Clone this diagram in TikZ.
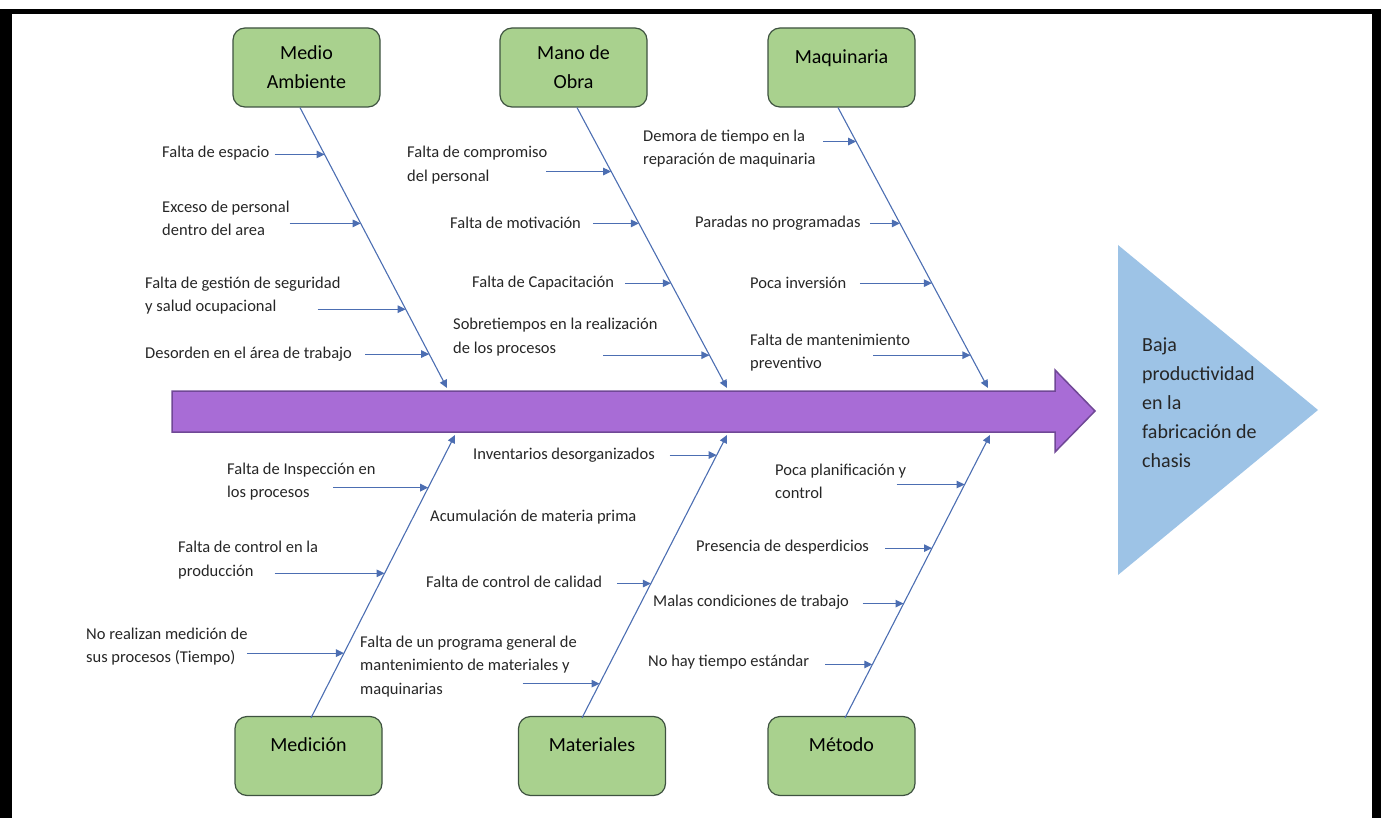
\documentclass[tikz,border=0pt]{standalone}
\usepackage{fontspec}
\setmainfont{Carlito}
\usetikzlibrary{arrows.meta,calc}
\definecolor{boxfill}{RGB}{169,209,142}
\definecolor{boxline}{RGB}{62,82,64}
\definecolor{bonecol}{RGB}{76,110,178}
\definecolor{spinefill}{RGB}{168,108,214}
\definecolor{spineline}{RGB}{112,72,150}
\definecolor{headfill}{RGB}{157,195,230}

\begin{document}
\begin{tikzpicture}[x=1pt,y=-1pt,
  cat/.style={draw=boxline,fill=boxfill,rounded corners=12pt,line width=1.2pt,minimum width=147pt,minimum height=79pt,align=center,inner sep=0pt,font=\fontsize{20}{29}\selectfont},
  onerow/.style={text height=14pt,text depth=22.6pt},
  why/.style={anchor=west,align=left,inner sep=0pt,text=black!85,font=\fontsize{16.5}{23.5}\selectfont},
  bone/.style={draw=bonecol,line width=1.1pt,-{Triangle[length=8pt,width=7.5pt]}},
  cause/.style={bone}]
\useasboundingbox (0,0) rectangle (1381,818);
\fill (0,9) rectangle (1381,14);
\fill (0,9) rectangle (12,818);
\fill (1372,9) rectangle (1381,818);

\draw[fill=spinefill,draw=spineline,line width=1.5pt] (172,391) -- (1055,391) -- (1055,370) -- (1095,411) -- (1055,452) -- (1055,432) -- (172,432) -- cycle;
\fill[headfill] (1118,245) -- (1318,410) -- (1118,575) -- cycle;
\node[anchor=west,align=left,inner sep=0pt,text=black!85,font=\fontsize{20}{29}\selectfont] (effect) at (1142,402.5) {Baja\\productividad\\en la\\fabricación de\\chasis};

\node[cat] (ma) at (306.5,67.5) {Medio\\Ambiente};
\node[cat] (mo) at (573.5,67.5) {Mano de\\Obra};
\node[cat,onerow] (mq) at (841.5,67.5) {Maquinaria};
\node[cat,onerow] (me) at (308.5,756) {Medición};
\node[cat,onerow] (mt) at (592,756) {Materiales};
\node[cat,onerow] (mm) at (841.5,756) {Método};

\coordinate (ma-root) at ([xshift=-6.5pt]ma.south);
\coordinate (mo-root) at ([xshift=3.5pt]mo.south);
\coordinate (mq-root) at ([xshift=-3.5pt]mq.south);
\coordinate (me-root) at ([xshift=2.5pt,yshift=-2pt]me.north);
\coordinate (mt-root) at ([xshift=-10pt,yshift=-2pt]mt.north);
\coordinate (mm-root) at ([xshift=3.5pt,yshift=-2pt]mm.north);
\coordinate (ma-tip) at (447,388);
\coordinate (mo-tip) at (727,388);
\coordinate (mq-tip) at (988,388);
\coordinate (me-tip) at (455,435);
\coordinate (mt-tip) at (727,435);
\coordinate (mm-tip) at (990,435);

\draw[bone] (ma-root) -- (ma-tip);
\draw[bone] (mo-root) -- (mo-tip);
\draw[bone] (mq-root) -- (mq-tip);
\draw[bone] (me-root) -- (me-tip);
\draw[bone] (mt-root) -- (mt-tip);
\draw[bone] (mm-root) -- (mm-tip);

\coordinate (ma1) at ($(ma-root)!0.167!(ma-tip)$);
\coordinate (ma2) at ($(ma-root)!0.413!(ma-tip)$);
\coordinate (ma3) at ($(ma-root)!0.719!(ma-tip)$);
\coordinate (ma4) at ($(ma-root)!0.879!(ma-tip)$);
\node[why] (ma-t1) at (162,153) {Falta de espacio};
\node[why] (ma-t2) at (162,218.5) {Exceso de personal\\dentro del area};
\node[why] (ma-t3) at (145,295.5) {Falta de gestión de seguridad\\y salud ocupacional};
\node[why] (ma-t4) at (145,354) {Desorden en el área de trabajo};
\draw[cause] ($(ma1)+(-50,0)$) -- (ma1);
\draw[cause] ($(ma2)+(-71,0)$) -- (ma2);
\draw[cause] ($(ma3)+(-88,0)$) -- (ma3);
\draw[cause] ($(ma4)+(-64,0)$) -- (ma4);

\coordinate (mo1) at ($(mo-root)!0.228!(mo-tip)$);
\coordinate (mo2) at ($(mo-root)!0.413!(mo-tip)$);
\coordinate (mo3) at ($(mo-root)!0.626!(mo-tip)$);
\coordinate (mo4) at ($(mo-root)!0.883!(mo-tip)$);
\node[why] (mo-t1) at (407,165) {Falta de compromiso\\del personal};
\node[why] (mo-t2) at (450,223) {Falta de motivación};
\node[why] (mo-t3) at (472,283) {Falta de Capacitación};
\node[why] (mo-t4) at (453,337) {Sobretiempos en la realización\\de los procesos};
\draw[cause] ($(mo1)+(-65,0)$) -- (mo1);
\draw[cause] ($(mo2)+(-46,0)$) -- (mo2);
\draw[cause] ($(mo3)+(-46,0)$) -- (mo3);
\draw[cause] ($(mo4)+(-106,0)$) -- (mo4);

\coordinate (mq1) at ($(mq-root)!0.121!(mq-tip)$);
\coordinate (mq2) at ($(mq-root)!0.413!(mq-tip)$);
\coordinate (mq3) at ($(mq-root)!0.626!(mq-tip)$);
\coordinate (mq4) at ($(mq-root)!0.883!(mq-tip)$);
\node[why] (mq-t1) at (643,148.5) {Demora de tiempo en la\\reparación de maquinaria};
\node[why] (mq-t2) at (695,223) {Paradas no programadas};
\node[why] (mq-t3) at (750,283) {Poca inversión};
\node[why] (mq-t4) at (750,352.5) {Falta de mantenimiento\\preventivo};
\draw[cause] ($(mq1)+(-33,0)$) -- (mq1);
\draw[cause] ($(mq2)+(-30,0)$) -- (mq2);
\draw[cause] ($(mq3)+(-72,0)$) -- (mq3);
\draw[cause] ($(mq4)+(-97,0)$) -- (mq4);

\coordinate (me1) at ($(me-root)!0.814!(me-tip)$);
\coordinate (me2) at ($(me-root)!0.511!(me-tip)$);
\coordinate (me3) at ($(me-root)!0.229!(me-tip)$);
\node[why] (me-t1) at (227,481.5) {Falta de Inspección en\\los procesos};
\node[why] (me-t2) at (178,560) {Falta de control en la\\producción};
\node[why] (me-t3) at (86,646.5) {No realizan medición de\\sus procesos (Tiempo)};
\draw[cause] ($(me1)+(-95,0)$) -- (me1);
\draw[cause] ($(me2)+(-110,0)$) -- (me2);
\draw[cause] ($(me3)+(-97,0)$) -- (me3);

\coordinate (mt1) at ($(mt-root)!0.929!(mt-tip)$);
\coordinate (mt2) at ($(mt-root)!0.475!(mt-tip)$);
\coordinate (mt3) at ($(mt-root)!0.121!(mt-tip)$);
\node[why] (mt-t1) at (473,455) {Inventarios desorganizados};
\node[why] (mt-t2) at (430,517) {Acumulación de materia prima};
\node[why] (mt-t3) at (426,582) {Falta de control de calidad};
\node[why] (mt-t4) at (360,666.5) {Falta de un programa general de\\mantenimiento de materiales y\\maquinarias};
\draw[cause] ($(mt1)+(-47,0)$) -- (mt1);
\draw[cause] ($(mt2)+(-34,0)$) -- (mt2);
\draw[cause] ($(mt3)+(-77,0)$) -- (mt3);

\coordinate (mm1) at ($(mm-root)!0.825!(mm-tip)$);
\coordinate (mm2) at ($(mm-root)!0.6!(mm-tip)$);
\coordinate (mm3) at ($(mm-root)!0.404!(mm-tip)$);
\coordinate (mm4) at ($(mm-root)!0.189!(mm-tip)$);
\node[why] (mm-t1) at (775,481.5) {Poca planificación y\\control};
\node[why] (mm-t2) at (696,547) {Presencia de desperdicios};
\node[why] (mm-t3) at (653,602) {Malas condiciones de trabajo};
\node[why] (mm-t4) at (648,662) {No hay tiempo estándar};
\draw[cause] ($(mm1)+(-68,0)$) -- (mm1);
\draw[cause] ($(mm2)+(-47,0)$) -- (mm2);
\draw[cause] ($(mm3)+(-41,0)$) -- (mm3);
\draw[cause] ($(mm4)+(-47,0)$) -- (mm4);
\end{tikzpicture}
\end{document}
